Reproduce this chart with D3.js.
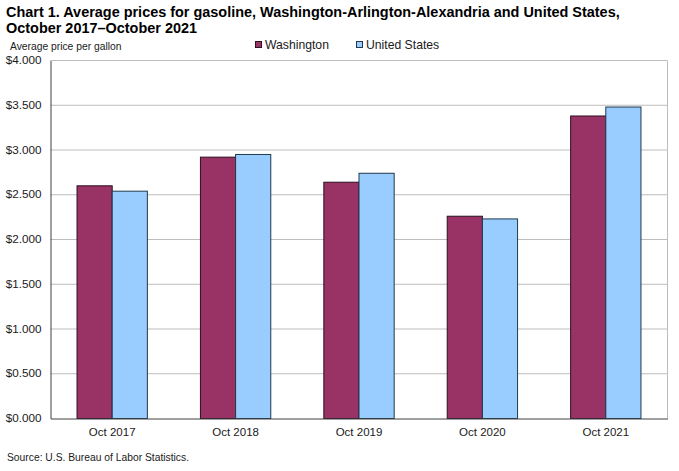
<!DOCTYPE html>
<html>
<head>
<meta charset="utf-8">
<script src="https://cdn.jsdelivr.net/npm/d3@7"></script>
<style>
  body { margin: 0; background: #fff; }
  text { font-family: "Liberation Sans", Arial, sans-serif; fill: #1a1a1a; }
</style>
</head>
<body>
<div id="chart"></div>
<script>
var categories = ["Oct 2017", "Oct 2018", "Oct 2019", "Oct 2020", "Oct 2021"];
var seriesNames = ["Washington", "United States"];
var washington = [2.60, 2.92, 2.64, 2.26, 3.38];
var unitedStates = [2.54, 2.95, 2.74, 2.23, 3.48];
var yTicks = [0, 0.5, 1, 1.5, 2, 2.5, 3, 3.5, 4];
var titleLines = [
  "Chart 1. Average prices for gasoline, Washington-Arlington-Alexandria and United States,",
  "October 2017\u2013October 2021"
];

var width = 679, height = 471;
var left = 50.5, right = 667.5, top_ = 60.5, bottom = 418.5;
var colors = ["#993366", "#99ccff"];
var strokes = ["#2b1020", "#1f3a4d"];

var svg = d3.select("#chart").append("svg")
  .attr("width", width)
  .attr("height", height)
  .style("display", "block");

var x = d3.scaleBand().domain(categories).range([left, right])
  .paddingInner(0.43).paddingOuter(0.215);
var x1 = d3.scaleBand().domain(seriesNames).range([0, x.bandwidth()]);
var y = d3.scaleLinear().domain([0, 4]).range([bottom, top_]);

// gridlines
svg.append("g").selectAll("line")
  .data(yTicks.filter(function(d) { return d > 0; }))
  .join("line")
  .attr("x1", left).attr("x2", right)
  .attr("y1", function(d) { return y(d); })
  .attr("y2", function(d) { return y(d); })
  .attr("stroke", "#bdbdbd")
  .attr("stroke-width", 1);

// right edge of the plot
svg.append("line")
  .attr("x1", right).attr("x2", right)
  .attr("y1", top_).attr("y2", bottom)
  .attr("stroke", "#bdbdbd");

var yAxis = svg.append("g")
  .attr("transform", "translate(" + left + ",0)")
  .call(d3.axisLeft(y).tickValues(yTicks).tickSize(0).tickPadding(9)
    .tickFormat(function(d) { return "$" + d3.format(".3f")(d); }));
yAxis.selectAll("text").style("font-size", "11.7px").attr("y", -0.7);
yAxis.select(".domain").attr("stroke", "#404040");

seriesNames.forEach(function(name, s) {
  var vals = s == 0 ? washington : unitedStates;
  svg.append("g").selectAll("rect")
    .data(vals)
    .join("rect")
    .attr("x", function(d, i) { return x(categories[i]) + x1(name); })
    .attr("y", function(d) { return y(d); })
    .attr("width", x1.bandwidth())
    .attr("height", function(d) { return bottom - y(d); })
    .attr("fill", colors[s])
    .attr("stroke", strokes[s])
    .attr("stroke-width", 1);
});

var xAxis = svg.append("g")
  .attr("transform", "translate(0," + bottom + ")")
  .call(d3.axisBottom(x).tickSize(0).tickPadding(9));
xAxis.selectAll("text").style("font-size", "11.5px");
xAxis.select(".domain").attr("stroke", "#404040");

// title
svg.append("g").selectAll("text")
  .data(titleLines)
  .join("text")
  .attr("x", 6)
  .attr("y", function(d, i) { return 17 + i * 16; })
  .style("font-size", "14.45px")
  .style("font-weight", "bold")
  .style("fill", "#000")
  .text(function(d) { return d; });

svg.append("text")
  .attr("x", 10).attr("y", 50)
  .style("font-size", "10.3px")
  .text("Average price per gallon");

// legend
var legendX = [255, 356];
seriesNames.forEach(function(name, s) {
  svg.append("rect")
    .attr("x", legendX[s] + 0.5).attr("y", 41.5)
    .attr("width", 6).attr("height", 6)
    .attr("fill", colors[s])
    .attr("stroke", strokes[s]);
  svg.append("text")
    .attr("x", legendX[s] + 10).attr("y", 48.5)
    .style("font-size", "12.2px")
    .text(name);
});

svg.append("text")
  .attr("x", 7).attr("y", 461)
  .style("font-size", "10.3px")
  .text("Source: U.S. Bureau of Labor Statistics.");
</script>
</body>
</html>
